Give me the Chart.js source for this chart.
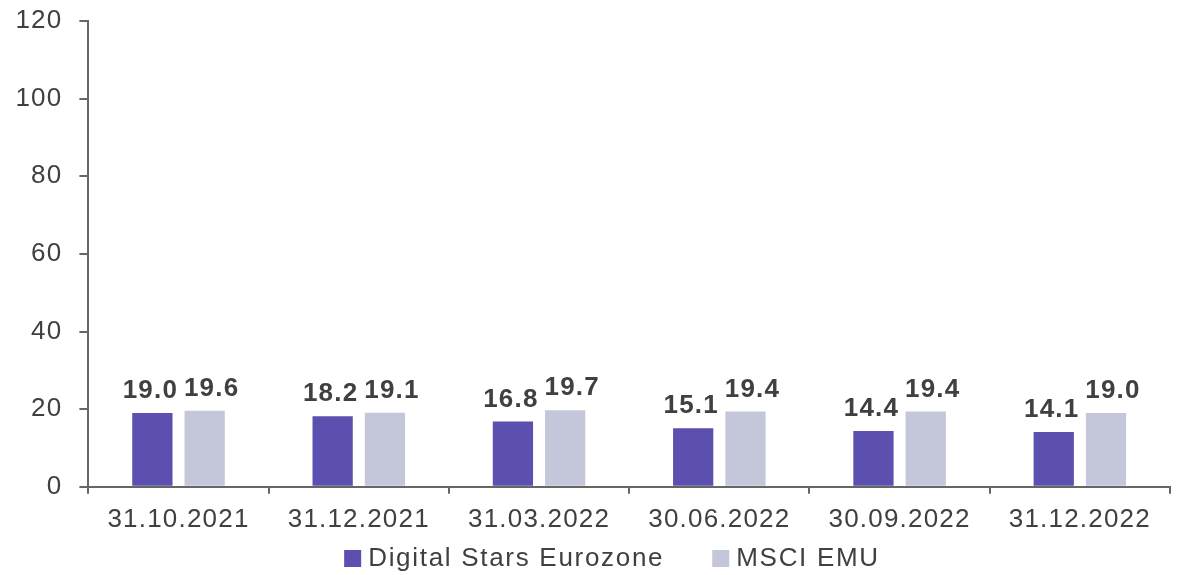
<!DOCTYPE html>
<html>
<head>
<meta charset="utf-8">
<script src="https://cdn.jsdelivr.net/npm/chart.js@4/dist/chart.umd.min.js"></script>
<style>
  html,body{margin:0;padding:0;background:#fff;}
  #wrap{width:1178px;height:575px;}
</style>
</head>
<body>
<div id="wrap"><canvas id="chart" width="1178" height="575"></canvas></div>
<script>
/* DATA */
const categories=["31.10.2021","31.12.2021","31.03.2022","30.06.2022","30.09.2022","31.12.2022"];
const digitalStars=[19.0,18.2,16.8,15.1,14.4,14.1];
const msciEmu=[19.6,19.1,19.7,19.4,19.4,19.0];
const yTicks=[0,20,40,60,80,100,120];

const TEXT="#404040";
const AXIS="#666666";
const LS="1.2px";
const FONT="'Liberation Sans', Arial, sans-serif";
Chart.defaults.font.family=FONT;
Chart.defaults.font.size=26;
Chart.defaults.color=TEXT;

/* letter spacing for all text */
const spacing={
  id:"spacing",
  beforeInit(chart){ chart.ctx.letterSpacing=LS; },
  beforeDraw(chart){ chart.ctx.letterSpacing=LS; }
};

/* VALUE LABELS */
const valueLabels={
  id:"valueLabels",
  afterDatasetsDraw(chart){
    const ctx=chart.ctx;
    ctx.save();
    ctx.letterSpacing=LS;
    ctx.font="bold 26px "+FONT;
    ctx.fillStyle=TEXT;
    ctx.textAlign="center";
    ctx.textBaseline="alphabetic";
    chart.data.datasets.forEach((ds,i)=>{
      chart.getDatasetMeta(i).data.forEach((bar,j)=>{
        const dx=i===0?-2:7;
        ctx.fillText(ds.data[j].toFixed(1),bar.x+dx,bar.y-15);
      });
    });
    ctx.restore();
  }
};

/* LEGEND (bottom, wide gap between items) */
const bottomLegend={
  id:"bottomLegend",
  afterDraw(chart){
    const ctx=chart.ctx;
    ctx.save();
    ctx.letterSpacing="1.7px";
    ctx.font="26px "+FONT;
    ctx.textBaseline="middle";
    ctx.textAlign="left";
    const box=17,gap=7,between=48;
    const items=chart.data.datasets.map(ds=>({text:ds.label,color:ds.backgroundColor,w:ctx.measureText(ds.label).width}));
    const total=items.reduce((s,it)=>s+box+gap+it.w,0)+between*(items.length-1);
    let x=chart.width/2+23-total/2;
    const y=chart.height-17;
    items.forEach(it=>{
      ctx.fillStyle=it.color;
      ctx.fillRect(x,y-8,box,box);
      ctx.fillStyle=TEXT;
      ctx.fillText(it.text,x+box+gap,y+1);
      x+=box+gap+it.w+between;
    });
    ctx.restore();
  }
};

new Chart(document.getElementById("chart"),{
  type:"bar",
  data:{
    labels:categories,
    datasets:[
      {label:"Digital Stars Eurozone",data:digitalStars,backgroundColor:"#5b4fb0",
       categoryPercentage:0.58,barPercentage:0.77},
      {label:"MSCI EMU",data:msciEmu,backgroundColor:"#c4c7da",
       categoryPercentage:0.58,barPercentage:0.77}
    ]
  },
  options:{
    responsive:false,
    animation:false,
    layout:{padding:{top:0,right:8,left:2,bottom:30}},
    plugins:{
      tooltip:{enabled:false},
      legend:{display:false}
    },
    scales:{
      x:{
        grid:{display:true,drawOnChartArea:false,color:AXIS,lineWidth:2,tickLength:7,offset:true},
        border:{color:AXIS,width:2},
        ticks:{padding:10,color:TEXT,maxRotation:0}
      },
      y:{
        min:0,max:120,
        afterBuildTicks(axis){ axis.ticks=yTicks.map(v=>({value:v})); },
        grid:{display:true,drawOnChartArea:false,color:AXIS,lineWidth:2,tickLength:9},
        border:{color:AXIS,width:2},
        ticks:{padding:17,color:TEXT,font:{lineHeight:0.31}}
      }
    }
  },
  plugins:[spacing,valueLabels,bottomLegend]
});
</script>
</body>
</html>
